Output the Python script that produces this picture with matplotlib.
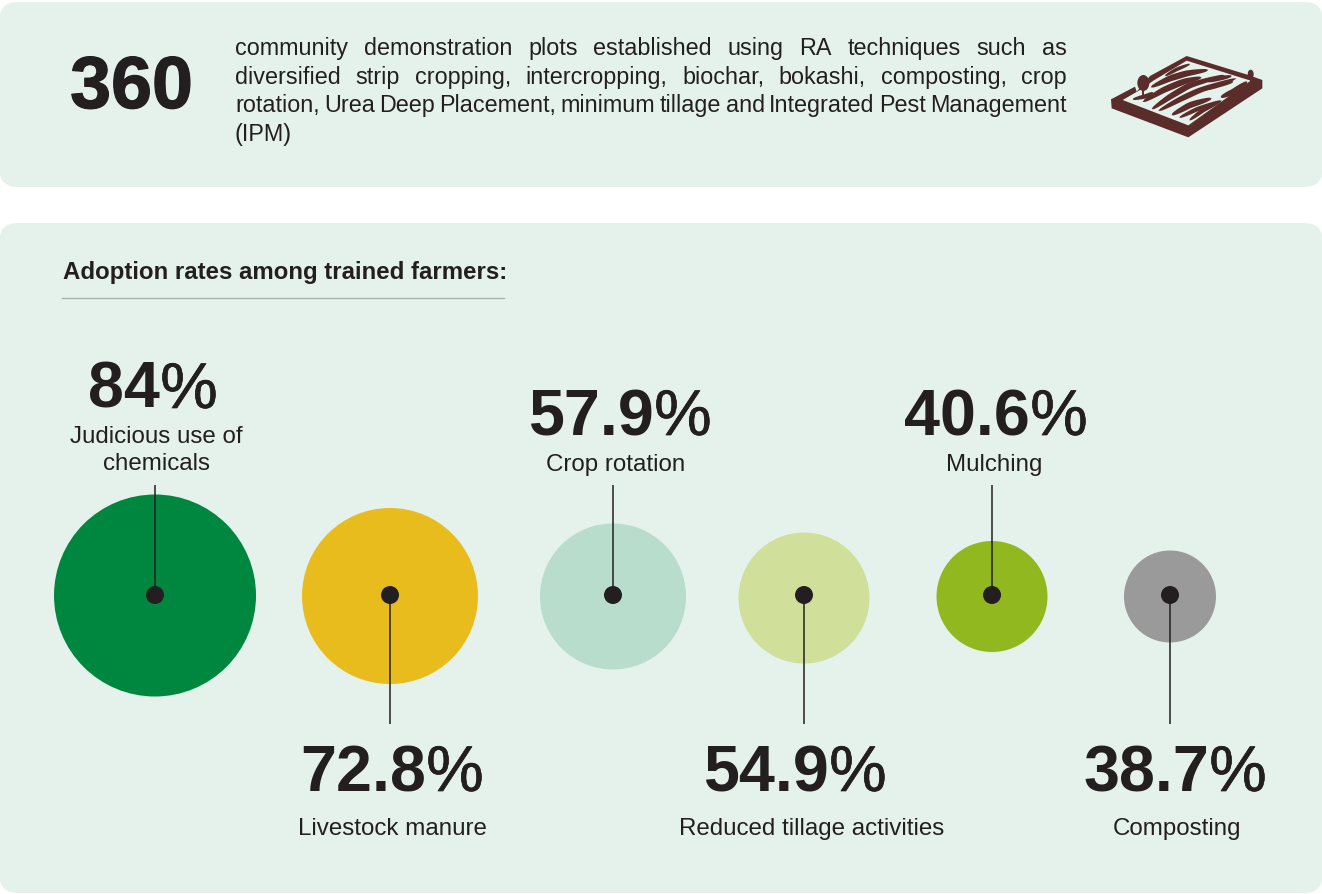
import matplotlib
matplotlib.use("Agg")
import matplotlib.pyplot as plt
import matplotlib.patheffects as pe
from matplotlib.patches import FancyBboxPatch, Circle, Ellipse, Polygon
import numpy as np

# ---------- data ----------
stat_value = "360"
stat_lines = [
    "community demonstration plots established using RA techniques such as",
    "diversified strip cropping, intercropping, biochar, bokashi, composting, crop",
    "rotation, Urea Deep Placement, minimum tillage and Integrated Pest Management",
    "(IPM)",
]
chart_title = "Adoption rates among trained farmers:"
percent_numbers = ["84", "72.8", "57.9", "54.9", "40.6", "38.7"]
category_labels = [
    ["Judicious use of", "chemicals"],
    ["Livestock manure"],
    ["Crop rotation"],
    ["Reduced tillage activities"],
    ["Mulching"],
    ["Composting"],
]

# ---------- layout / style ----------
bubble_radius = [101, 88, 73, 65.5, 55.5, 46]
bubble_x = [155, 390, 613, 804, 992, 1170]
bubble_y = [595.5, 596, 596.5, 598, 596.5, 596.5]
bubble_colors = ["#00873F", "#E8BC1D", "#B8DDCC", "#D0E09B", "#92B81F", "#9A9A9A"]
leader_end = [485, 724, 485, 724, 485, 724]
pct_center_x = [153, 392, 620, 795, 996, 1175]
pct_baseline = [408, 791, 435, 791, 435, 791]
label_center_x = [156, 392, 616, 812, 994, 1177]
label_baseline = [443, 835, 471, 835, 471, 835]
DOT_Y = 595
INK = "#231F20"
PANEL = "#E5F2EC"
BROWN = "#5A2D2A"
FONT = "Liberation Sans"

W, H = 1322, 894
fig = plt.figure(figsize=(W / 100, H / 100), dpi=100, facecolor="white")
ax = fig.add_axes([0, 0, 1, 1])
ax.set_xlim(0, W)
ax.set_ylim(H, 0)
ax.axis("off")
rend = fig.canvas.get_renderer()


def width(s, **kw):
    t = ax.text(0, 0, s, family=FONT, **kw)
    w = t.get_window_extent(rend).width
    t.remove()
    return w


def panel(y0, y1):
    r = 18
    ax.add_patch(FancyBboxPatch((r - 0.5, y0 + r), W - 2 * r + 1, y1 - y0 - 2 * r,
                                boxstyle=f"round,pad={r},rounding_size={r}",
                                fc=PANEL, ec="none", zorder=1))


panel(2, 187)
panel(223, 893)

# headline number
t = ax.text(131.5, 108, stat_value, family=FONT, weight="bold", fontsize=53, color=INK,
            ha="center", va="baseline", zorder=3)
t.set_path_effects([pe.withStroke(linewidth=0.9, foreground=INK)])

# justified description
BODY = 16.8
X0, X1 = 235, 1067
for i, line in enumerate(stat_lines):
    y = 55 + i * 28.6
    words = line.split(" ")
    widths = [width(w, fontsize=BODY) for w in words]
    if i < len(stat_lines) - 1:
        gap = (X1 - X0 - sum(widths)) / (len(words) - 1)
    else:
        gap = 6
    x = X0
    for w, ww in zip(words, widths):
        ax.text(x, y, w, family=FONT, fontsize=BODY, color=INK, ha="left", va="baseline", zorder=3)
        x += ww + gap

# title and rule
ax.text(63, 279, chart_title, family=FONT, weight="bold", fontsize=17.25, color=INK,
        ha="left", va="baseline", zorder=3)
ax.plot([62, 504], [297.8, 297.8], color="#A9B1AD", lw=1.0, zorder=3)

# bubbles, leaders, dots
for x, y, r, c, e in zip(bubble_x, bubble_y, bubble_radius, bubble_colors, leader_end):
    ax.add_patch(Circle((x, y), r, fc=c, ec="none", zorder=2))
    ax.plot([x, x], [DOT_Y, e], color=INK, lw=1.1, zorder=3, solid_capstyle="butt")
    ax.add_patch(Circle((x, DOT_Y), 9, fc=INK, ec="none", zorder=4))

# percentages (bold figures, lighter percent sign)
PCT = 46.5
for num, cx, by in zip(percent_numbers, pct_center_x, pct_baseline):
    wn = width(num, fontsize=PCT, weight="bold")
    wp = width("%", fontsize=PCT)
    left = cx - (wn + wp) / 2
    ax.text(left, by, num, family=FONT, weight="bold", fontsize=PCT, color=INK,
            ha="left", va="baseline", zorder=3)
    tp = ax.text(left + wn, by, "%", family=FONT, fontsize=PCT, color=INK,
                 ha="left", va="baseline", zorder=3)
    tp.set_path_effects([pe.withStroke(linewidth=0.5, foreground=INK)])

# category labels
for lines, cx, by in zip(category_labels, label_center_x, label_baseline):
    for j, s in enumerate(lines):
        ax.text(cx, by + j * 27.5, s, family=FONT, fontsize=17.4, color=INK,
                ha="center", va="baseline", zorder=3)


# ---------- field icon (sketch units: 3 per pixel) ----------
def ic(p):
    return (1090 + p[0] / 3, 40 + p[1] / 3)


def poly(pts, fc, z=5):
    ax.add_patch(Polygon([ic(p) for p in pts], closed=True, fc=fc, ec="none", zorder=z))


def stripe(ctrl, w):
    ctrl = np.array(ctrl, float)
    u = np.linspace(0, 1, 30)
    param = np.linspace(0, 1, len(ctrl))
    cx = np.interp(u, param, ctrl[:, 0])
    cy = np.interp(u, param, ctrl[:, 1])
    for _ in range(3):
        cx[1:-1] = (cx[:-2] + cx[1:-1] + cx[2:]) / 3
        cy[1:-1] = (cy[:-2] + cy[1:-1] + cy[2:]) / 3
    dx, dy = np.gradient(cx), np.gradient(cy)
    n = np.hypot(dx, dy)
    hw = w / 2 * np.sin(np.pi * u) ** 0.4
    a = np.c_[cx - dy / n * hw, cy + dx / n * hw]
    b = np.c_[cx + dy / n * hw, cy - dx / n * hw]
    poly(np.r_[a, b[::-1]], BROWN, 6)


poly([(63, 178), (135, 140), (140, 155), (180, 108), (290, 48), (475, 105), (517, 120),
      (517, 145), (295, 292), (65, 205)], BROWN)
poly([(98, 180), (150, 150), (190, 122), (290, 62), (482, 122), (295, 256)], PANEL)

stripes = [
    ([(225, 108), (260, 88), (300, 72)], 11),
    ([(182, 142), (240, 115), (290, 100), (355, 90)], 19),
    ([(128, 178), (170, 168), (190, 158)], 13),
    ([(158, 186), (220, 150), (280, 125), (335, 112)], 19),
    ([(185, 208), (240, 170), (300, 135), (405, 105)], 18),
    ([(205, 213), (270, 178), (330, 150), (440, 115)], 17),
    ([(245, 225), (300, 195), (365, 175)], 18),
    ([(268, 233), (320, 208), (392, 182)], 13),
    ([(298, 241), (340, 210), (395, 182)], 13),
    ([(392, 172), (430, 155), (472, 125)], 17),
    ([(352, 125), (390, 115), (425, 108)], 13),
    ([(345, 150), (390, 135), (430, 125)], 12),
]
for ctrl, w in stripes:
    stripe(ctrl, w)

for (tx, cy, ew, eh, b) in [(160, 129, 36, 48, 168), (482, 103, 18, 28, 125)]:
    ax.add_patch(Ellipse(ic((tx, cy)), ew / 3, eh / 3, fc=BROWN, ec="none", zorder=7))
    ax.plot(*zip(ic((tx, cy)), ic((tx, b))), color=BROWN, lw=1.4, zorder=7)

fig.savefig("out.png", dpi=100, facecolor="white")
